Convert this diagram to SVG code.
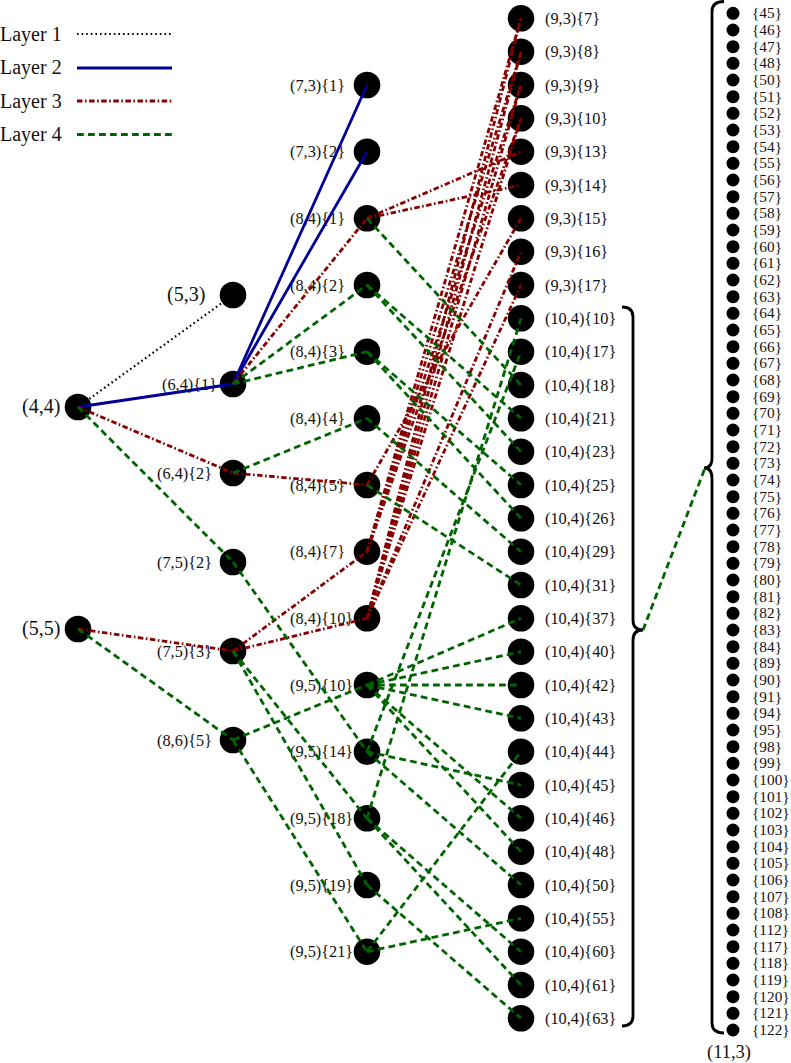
<svg xmlns="http://www.w3.org/2000/svg" width="791" height="1063" viewBox="0 0 791 1063">
<style>
.n{fill:#000}
.s{fill:#000}
text{font-family:"Liberation Serif","DejaVu Serif",serif;fill:#111}
.lb{font-size:16.3px}
.big{font-size:20px}
.sm{font-size:15.3px}
.l1{stroke:#000;stroke-width:2.2;stroke-dasharray:1.6 3;fill:none}
.l2{stroke:#000096;stroke-width:2.8;fill:none}
.l3{stroke:#880000;stroke-width:2.8;stroke-dasharray:5.5 2.5 1.6 2.5;fill:none}
.l4{stroke:#006400;stroke-width:2.8;stroke-dasharray:6.8 4.2;fill:none}
.br{stroke:#000;stroke-width:2.8;fill:none}
</style>
<rect width="791" height="1063" fill="#fff"/>
<g id="legend">
<text class="big" x="0" y="40.5">Layer 1</text>
<text class="big" x="0" y="74">Layer 2</text>
<text class="big" x="0" y="107.5">Layer 3</text>
<text class="big" x="0" y="141">Layer 4</text>
<line class="l1" x1="77" y1="34" x2="172" y2="34"/>
<line class="l2" x1="77" y1="68" x2="172" y2="68"/>
<line class="l3" x1="77" y1="101" x2="172" y2="101"/>
<line class="l4" x1="77" y1="134.5" x2="172" y2="134.5"/>
</g>
<g id="n44"><circle class="n" cx="78" cy="407" r="13.3"/><text class="big" x="22" y="413">(4,4)</text></g>
<g id="n55"><circle class="n" cx="78" cy="629" r="13.3"/><text class="big" x="22" y="635">(5,5)</text></g>
<g id="n53"><circle class="n" cx="233" cy="295" r="13.3"/><text class="big" x="167" y="301">(5,3)</text></g>
<g id="n641"><circle class="n" cx="233" cy="384" r="13.3"/><text class="lb" x="162" y="389.5">(6,4){1}</text></g>
<g id="n642"><circle class="n" cx="233" cy="473" r="13.3"/><text class="lb" x="157" y="479">(6,4){2}</text></g>
<g id="n752"><circle class="n" cx="233" cy="562" r="13.3"/><text class="lb" x="157" y="568">(7,5){2}</text></g>
<g id="n753"><circle class="n" cx="233" cy="651" r="13.3"/><text class="lb" x="157" y="657">(7,5){3}</text></g>
<g id="n865"><circle class="n" cx="233" cy="740" r="13.3"/><text class="lb" x="157" y="746">(8,6){5}</text></g>
<g id="n731"><circle class="n" cx="367" cy="85" r="13.3"/><text class="lb" x="290" y="90.5">(7,3){1}</text></g>
<g id="n732"><circle class="n" cx="367" cy="151.7" r="13.3"/><text class="lb" x="290" y="157.2">(7,3){2}</text></g>
<g id="n841"><circle class="n" cx="367" cy="218.3" r="13.3"/><text class="lb" x="290" y="223.8">(8,4){1}</text></g>
<g id="n842"><circle class="n" cx="367" cy="285" r="13.3"/><text class="lb" x="290" y="290.5">(8,4){2}</text></g>
<g id="n843"><circle class="n" cx="367" cy="351.7" r="13.3"/><text class="lb" x="290" y="357.2">(8,4){3}</text></g>
<g id="n844"><circle class="n" cx="367" cy="418.3" r="13.3"/><text class="lb" x="290" y="423.8">(8,4){4}</text></g>
<g id="n845"><circle class="n" cx="367" cy="485" r="13.3"/><text class="lb" x="290" y="490.5">(8,4){5}</text></g>
<g id="n847"><circle class="n" cx="367" cy="551.7" r="13.3"/><text class="lb" x="290" y="557.2">(8,4){7}</text></g>
<g id="n8410"><circle class="n" cx="367" cy="618.3" r="13.3"/><text class="lb" x="290" y="623.8">(8,4){10}</text></g>
<g id="n9510"><circle class="n" cx="367" cy="685" r="13.3"/><text class="lb" x="290" y="690.5">(9,5){10}</text></g>
<g id="n9514"><circle class="n" cx="367" cy="751.7" r="13.3"/><text class="lb" x="290" y="757.2">(9,5){14}</text></g>
<g id="n9518"><circle class="n" cx="367" cy="818.3" r="13.3"/><text class="lb" x="290" y="823.8">(9,5){18}</text></g>
<g id="n9519"><circle class="n" cx="367" cy="885" r="13.3"/><text class="lb" x="290" y="890.5">(9,5){19}</text></g>
<g id="n9521"><circle class="n" cx="367" cy="951.7" r="13.3"/><text class="lb" x="290" y="957.2">(9,5){21}</text></g>
<g id="n937"><circle class="n" cx="521" cy="18.3" r="13.3"/><text class="lb" x="545" y="23.8">(9,3){7}</text></g>
<g id="n938"><circle class="n" cx="521" cy="51.7" r="13.3"/><text class="lb" x="545" y="57.2">(9,3){8}</text></g>
<g id="n939"><circle class="n" cx="521" cy="85" r="13.3"/><text class="lb" x="545" y="90.5">(9,3){9}</text></g>
<g id="n9310"><circle class="n" cx="521" cy="118.3" r="13.3"/><text class="lb" x="545" y="123.8">(9,3){10}</text></g>
<g id="n9313"><circle class="n" cx="521" cy="151.7" r="13.3"/><text class="lb" x="545" y="157.2">(9,3){13}</text></g>
<g id="n9314"><circle class="n" cx="521" cy="185" r="13.3"/><text class="lb" x="545" y="190.5">(9,3){14}</text></g>
<g id="n9315"><circle class="n" cx="521" cy="218.3" r="13.3"/><text class="lb" x="545" y="223.8">(9,3){15}</text></g>
<g id="n9316"><circle class="n" cx="521" cy="251.7" r="13.3"/><text class="lb" x="545" y="257.2">(9,3){16}</text></g>
<g id="n9317"><circle class="n" cx="521" cy="285" r="13.3"/><text class="lb" x="545" y="290.5">(9,3){17}</text></g>
<g id="t10"><circle class="n" cx="521" cy="318.3" r="13.3"/><text class="lb" x="545" y="323.8">(10,4){10}</text></g>
<g id="t17"><circle class="n" cx="521" cy="351.7" r="13.3"/><text class="lb" x="545" y="357.2">(10,4){17}</text></g>
<g id="t18"><circle class="n" cx="521" cy="385" r="13.3"/><text class="lb" x="545" y="390.5">(10,4){18}</text></g>
<g id="t21"><circle class="n" cx="521" cy="418.3" r="13.3"/><text class="lb" x="545" y="423.8">(10,4){21}</text></g>
<g id="t23"><circle class="n" cx="521" cy="451.7" r="13.3"/><text class="lb" x="545" y="457.2">(10,4){23}</text></g>
<g id="t25"><circle class="n" cx="521" cy="485" r="13.3"/><text class="lb" x="545" y="490.5">(10,4){25}</text></g>
<g id="t26"><circle class="n" cx="521" cy="518.3" r="13.3"/><text class="lb" x="545" y="523.8">(10,4){26}</text></g>
<g id="t29"><circle class="n" cx="521" cy="551.7" r="13.3"/><text class="lb" x="545" y="557.2">(10,4){29}</text></g>
<g id="t31"><circle class="n" cx="521" cy="585" r="13.3"/><text class="lb" x="545" y="590.5">(10,4){31}</text></g>
<g id="t37"><circle class="n" cx="521" cy="618.3" r="13.3"/><text class="lb" x="545" y="623.8">(10,4){37}</text></g>
<g id="t40"><circle class="n" cx="521" cy="651.7" r="13.3"/><text class="lb" x="545" y="657.2">(10,4){40}</text></g>
<g id="t42"><circle class="n" cx="521" cy="685" r="13.3"/><text class="lb" x="545" y="690.5">(10,4){42}</text></g>
<g id="t43"><circle class="n" cx="521" cy="718.3" r="13.3"/><text class="lb" x="545" y="723.8">(10,4){43}</text></g>
<g id="t44"><circle class="n" cx="521" cy="751.7" r="13.3"/><text class="lb" x="545" y="757.2">(10,4){44}</text></g>
<g id="t45"><circle class="n" cx="521" cy="785" r="13.3"/><text class="lb" x="545" y="790.5">(10,4){45}</text></g>
<g id="t46"><circle class="n" cx="521" cy="818.3" r="13.3"/><text class="lb" x="545" y="823.8">(10,4){46}</text></g>
<g id="t48"><circle class="n" cx="521" cy="851.7" r="13.3"/><text class="lb" x="545" y="857.2">(10,4){48}</text></g>
<g id="t50"><circle class="n" cx="521" cy="885" r="13.3"/><text class="lb" x="545" y="890.5">(10,4){50}</text></g>
<g id="t55"><circle class="n" cx="521" cy="918.3" r="13.3"/><text class="lb" x="545" y="923.8">(10,4){55}</text></g>
<g id="t60"><circle class="n" cx="521" cy="951.7" r="13.3"/><text class="lb" x="545" y="957.2">(10,4){60}</text></g>
<g id="t61"><circle class="n" cx="521" cy="985" r="13.3"/><text class="lb" x="545" y="990.5">(10,4){61}</text></g>
<g id="t63"><circle class="n" cx="521" cy="1018.3" r="13.3"/><text class="lb" x="545" y="1023.8">(10,4){63}</text></g>
<g id="brace104"><path class="br" d="M622,307 Q633,307 633,317 L633,620 Q633,630 643,630 Q633,630 633,640 L633,1016 Q633,1026 622,1026"/></g>
<g id="n113">
<path class="br" d="M724,1.5 Q712,1.5 712,11.5 L712,458 Q712,468 704,468 Q712,468 712,478 L712,1023 Q712,1033 724,1033"/>
<text style="font-size:18.5px" x="707" y="1058">(11,3)</text>
</g>
<g id="s45"><circle class="s" cx="733" cy="13.3" r="6.5"/><text class="sm" x="752" y="18.3">{45}</text></g>
<g id="s46"><circle class="s" cx="733" cy="30" r="6.5"/><text class="sm" x="752" y="35">{46}</text></g>
<g id="s47"><circle class="s" cx="733" cy="46.7" r="6.5"/><text class="sm" x="752" y="51.7">{47}</text></g>
<g id="s48"><circle class="s" cx="733" cy="63.3" r="6.5"/><text class="sm" x="752" y="68.3">{48}</text></g>
<g id="s50"><circle class="s" cx="733" cy="80" r="6.5"/><text class="sm" x="752" y="85">{50}</text></g>
<g id="s51"><circle class="s" cx="733" cy="96.7" r="6.5"/><text class="sm" x="752" y="101.7">{51}</text></g>
<g id="s52"><circle class="s" cx="733" cy="113.3" r="6.5"/><text class="sm" x="752" y="118.3">{52}</text></g>
<g id="s53"><circle class="s" cx="733" cy="130" r="6.5"/><text class="sm" x="752" y="135">{53}</text></g>
<g id="s54"><circle class="s" cx="733" cy="146.7" r="6.5"/><text class="sm" x="752" y="151.7">{54}</text></g>
<g id="s55"><circle class="s" cx="733" cy="163.3" r="6.5"/><text class="sm" x="752" y="168.3">{55}</text></g>
<g id="s56"><circle class="s" cx="733" cy="180" r="6.5"/><text class="sm" x="752" y="185">{56}</text></g>
<g id="s57"><circle class="s" cx="733" cy="196.7" r="6.5"/><text class="sm" x="752" y="201.7">{57}</text></g>
<g id="s58"><circle class="s" cx="733" cy="213.3" r="6.5"/><text class="sm" x="752" y="218.3">{58}</text></g>
<g id="s59"><circle class="s" cx="733" cy="230" r="6.5"/><text class="sm" x="752" y="235">{59}</text></g>
<g id="s60"><circle class="s" cx="733" cy="246.7" r="6.5"/><text class="sm" x="752" y="251.7">{60}</text></g>
<g id="s61"><circle class="s" cx="733" cy="263.3" r="6.5"/><text class="sm" x="752" y="268.3">{61}</text></g>
<g id="s62"><circle class="s" cx="733" cy="280" r="6.5"/><text class="sm" x="752" y="285">{62}</text></g>
<g id="s63"><circle class="s" cx="733" cy="296.7" r="6.5"/><text class="sm" x="752" y="301.7">{63}</text></g>
<g id="s64"><circle class="s" cx="733" cy="313.3" r="6.5"/><text class="sm" x="752" y="318.3">{64}</text></g>
<g id="s65"><circle class="s" cx="733" cy="330" r="6.5"/><text class="sm" x="752" y="335">{65}</text></g>
<g id="s66"><circle class="s" cx="733" cy="346.7" r="6.5"/><text class="sm" x="752" y="351.7">{66}</text></g>
<g id="s67"><circle class="s" cx="733" cy="363.3" r="6.5"/><text class="sm" x="752" y="368.3">{67}</text></g>
<g id="s68"><circle class="s" cx="733" cy="380" r="6.5"/><text class="sm" x="752" y="385">{68}</text></g>
<g id="s69"><circle class="s" cx="733" cy="396.7" r="6.5"/><text class="sm" x="752" y="401.7">{69}</text></g>
<g id="s70"><circle class="s" cx="733" cy="413.3" r="6.5"/><text class="sm" x="752" y="418.3">{70}</text></g>
<g id="s71"><circle class="s" cx="733" cy="430" r="6.5"/><text class="sm" x="752" y="435">{71}</text></g>
<g id="s72"><circle class="s" cx="733" cy="446.7" r="6.5"/><text class="sm" x="752" y="451.7">{72}</text></g>
<g id="s73"><circle class="s" cx="733" cy="463.3" r="6.5"/><text class="sm" x="752" y="468.3">{73}</text></g>
<g id="s74"><circle class="s" cx="733" cy="480" r="6.5"/><text class="sm" x="752" y="485">{74}</text></g>
<g id="s75"><circle class="s" cx="733" cy="496.7" r="6.5"/><text class="sm" x="752" y="501.7">{75}</text></g>
<g id="s76"><circle class="s" cx="733" cy="513.3" r="6.5"/><text class="sm" x="752" y="518.3">{76}</text></g>
<g id="s77"><circle class="s" cx="733" cy="530" r="6.5"/><text class="sm" x="752" y="535">{77}</text></g>
<g id="s78"><circle class="s" cx="733" cy="546.7" r="6.5"/><text class="sm" x="752" y="551.7">{78}</text></g>
<g id="s79"><circle class="s" cx="733" cy="563.3" r="6.5"/><text class="sm" x="752" y="568.3">{79}</text></g>
<g id="s80"><circle class="s" cx="733" cy="580" r="6.5"/><text class="sm" x="752" y="585">{80}</text></g>
<g id="s81"><circle class="s" cx="733" cy="596.7" r="6.5"/><text class="sm" x="752" y="601.7">{81}</text></g>
<g id="s82"><circle class="s" cx="733" cy="613.3" r="6.5"/><text class="sm" x="752" y="618.3">{82}</text></g>
<g id="s83"><circle class="s" cx="733" cy="630" r="6.5"/><text class="sm" x="752" y="635">{83}</text></g>
<g id="s84"><circle class="s" cx="733" cy="646.7" r="6.5"/><text class="sm" x="752" y="651.7">{84}</text></g>
<g id="s89"><circle class="s" cx="733" cy="663.3" r="6.5"/><text class="sm" x="752" y="668.3">{89}</text></g>
<g id="s90"><circle class="s" cx="733" cy="680" r="6.5"/><text class="sm" x="752" y="685">{90}</text></g>
<g id="s91"><circle class="s" cx="733" cy="696.7" r="6.5"/><text class="sm" x="752" y="701.7">{91}</text></g>
<g id="s94"><circle class="s" cx="733" cy="713.3" r="6.5"/><text class="sm" x="752" y="718.3">{94}</text></g>
<g id="s95"><circle class="s" cx="733" cy="730" r="6.5"/><text class="sm" x="752" y="735">{95}</text></g>
<g id="s98"><circle class="s" cx="733" cy="746.7" r="6.5"/><text class="sm" x="752" y="751.7">{98}</text></g>
<g id="s99"><circle class="s" cx="733" cy="763.3" r="6.5"/><text class="sm" x="752" y="768.3">{99}</text></g>
<g id="s100"><circle class="s" cx="733" cy="780" r="6.5"/><text class="sm" x="752" y="785">{100}</text></g>
<g id="s101"><circle class="s" cx="733" cy="796.7" r="6.5"/><text class="sm" x="752" y="801.7">{101}</text></g>
<g id="s102"><circle class="s" cx="733" cy="813.3" r="6.5"/><text class="sm" x="752" y="818.3">{102}</text></g>
<g id="s103"><circle class="s" cx="733" cy="830" r="6.5"/><text class="sm" x="752" y="835">{103}</text></g>
<g id="s104"><circle class="s" cx="733" cy="846.7" r="6.5"/><text class="sm" x="752" y="851.7">{104}</text></g>
<g id="s105"><circle class="s" cx="733" cy="863.3" r="6.5"/><text class="sm" x="752" y="868.3">{105}</text></g>
<g id="s106"><circle class="s" cx="733" cy="880" r="6.5"/><text class="sm" x="752" y="885">{106}</text></g>
<g id="s107"><circle class="s" cx="733" cy="896.7" r="6.5"/><text class="sm" x="752" y="901.7">{107}</text></g>
<g id="s108"><circle class="s" cx="733" cy="913.3" r="6.5"/><text class="sm" x="752" y="918.3">{108}</text></g>
<g id="s112"><circle class="s" cx="733" cy="930" r="6.5"/><text class="sm" x="752" y="935">{112}</text></g>
<g id="s117"><circle class="s" cx="733" cy="946.7" r="6.5"/><text class="sm" x="752" y="951.7">{117}</text></g>
<g id="s118"><circle class="s" cx="733" cy="963.3" r="6.5"/><text class="sm" x="752" y="968.3">{118}</text></g>
<g id="s119"><circle class="s" cx="733" cy="980" r="6.5"/><text class="sm" x="752" y="985">{119}</text></g>
<g id="s120"><circle class="s" cx="733" cy="996.7" r="6.5"/><text class="sm" x="752" y="1001.7">{120}</text></g>
<g id="s121"><circle class="s" cx="733" cy="1013.3" r="6.5"/><text class="sm" x="752" y="1018.3">{121}</text></g>
<g id="s122"><circle class="s" cx="733" cy="1030" r="6.5"/><text class="sm" x="752" y="1035">{122}</text></g>
<g id="connectors">
<line class="l1" x1="78" y1="407" x2="233" y2="295"/>
<line class="l2" x1="78" y1="407" x2="233" y2="384"/>
<line class="l2" x1="233" y1="384" x2="367" y2="85"/>
<line class="l2" x1="233" y1="384" x2="367" y2="151.7"/>
<line class="l3" x1="78" y1="407" x2="233" y2="473"/>
<line class="l3" x1="78" y1="629" x2="233" y2="651"/>
<line class="l3" x1="233" y1="384" x2="367" y2="218.3"/>
<line class="l3" x1="233" y1="473" x2="367" y2="485"/>
<line class="l3" x1="233" y1="651" x2="367" y2="551.7"/>
<line class="l3" x1="233" y1="651" x2="367" y2="618.3"/>
<line class="l3" x1="367" y1="218.3" x2="521" y2="151.7"/>
<line class="l3" x1="367" y1="218.3" x2="521" y2="185"/>
<line class="l3" x1="367" y1="485" x2="521" y2="218.3"/>
<line class="l3" x1="367" y1="551.7" x2="521" y2="18.3"/>
<line class="l3" x1="367" y1="551.7" x2="521" y2="51.7"/>
<line class="l3" x1="367" y1="551.7" x2="521" y2="85"/>
<line class="l3" x1="367" y1="551.7" x2="521" y2="118.3"/>
<line class="l3" x1="367" y1="618.3" x2="521" y2="18.3"/>
<line class="l3" x1="367" y1="618.3" x2="521" y2="51.7"/>
<line class="l3" x1="367" y1="618.3" x2="521" y2="85"/>
<line class="l3" x1="367" y1="618.3" x2="521" y2="118.3"/>
<line class="l3" x1="367" y1="618.3" x2="521" y2="251.7"/>
<line class="l3" x1="367" y1="618.3" x2="521" y2="285"/>
<line class="l4" x1="78" y1="407" x2="233" y2="562"/>
<line class="l4" x1="78" y1="629" x2="233" y2="740"/>
<line class="l4" x1="233" y1="384" x2="367" y2="285"/>
<line class="l4" x1="233" y1="384" x2="367" y2="351.7"/>
<line class="l4" x1="233" y1="473" x2="367" y2="418.3"/>
<line class="l4" x1="233" y1="562" x2="367" y2="751.7"/>
<line class="l4" x1="233" y1="651" x2="367" y2="818.3"/>
<line class="l4" x1="233" y1="651" x2="367" y2="885"/>
<line class="l4" x1="233" y1="740" x2="367" y2="685"/>
<line class="l4" x1="233" y1="740" x2="367" y2="951.7"/>
<line class="l4" x1="367" y1="218.3" x2="521" y2="385"/>
<line class="l4" x1="367" y1="285" x2="521" y2="418.3"/>
<line class="l4" x1="367" y1="285" x2="521" y2="451.7"/>
<line class="l4" x1="367" y1="351.7" x2="521" y2="485"/>
<line class="l4" x1="367" y1="351.7" x2="521" y2="518.3"/>
<line class="l4" x1="367" y1="418.3" x2="521" y2="551.7"/>
<line class="l4" x1="367" y1="485" x2="521" y2="585"/>
<line class="l4" x1="367" y1="685" x2="521" y2="618.3"/>
<line class="l4" x1="367" y1="685" x2="521" y2="651.7"/>
<line class="l4" x1="367" y1="685" x2="521" y2="685"/>
<line class="l4" x1="367" y1="685" x2="521" y2="718.3"/>
<line class="l4" x1="367" y1="685" x2="521" y2="818.3"/>
<line class="l4" x1="367" y1="685" x2="521" y2="851.7"/>
<line class="l4" x1="367" y1="751.7" x2="521" y2="351.7"/>
<line class="l4" x1="367" y1="751.7" x2="521" y2="785"/>
<line class="l4" x1="367" y1="751.7" x2="521" y2="885"/>
<line class="l4" x1="367" y1="818.3" x2="521" y2="318.3"/>
<line class="l4" x1="367" y1="818.3" x2="521" y2="951.7"/>
<line class="l4" x1="367" y1="818.3" x2="521" y2="985"/>
<line class="l4" x1="367" y1="885" x2="521" y2="1018.3"/>
<line class="l4" x1="367" y1="951.7" x2="521" y2="751.7"/>
<line class="l4" x1="367" y1="951.7" x2="521" y2="918.3"/>
<line class="l4" x1="643" y1="630" x2="705" y2="468"/>
</g>
</svg>
